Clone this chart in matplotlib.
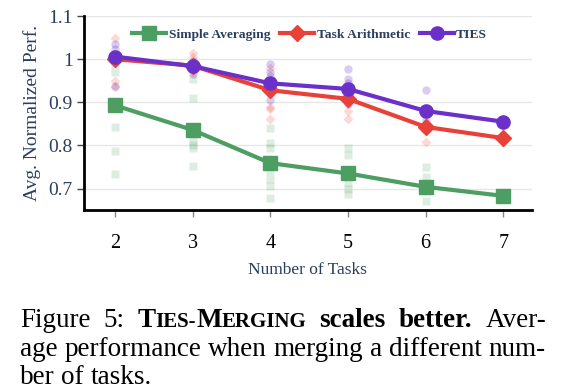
import numpy as np
import matplotlib
matplotlib.use("Agg")
import matplotlib.pyplot as plt

plt.rcParams['font.family'] = ['Liberation Serif', 'DejaVu Serif']

# data
tasks = [2, 3, 4, 5, 6, 7]
simple_avg = [0.893, 0.836, 0.759, 0.735, 0.704, 0.683]
task_arith = [1.000, 0.985, 0.928, 0.908, 0.843, 0.817]
ties = [1.006, 0.984, 0.944, 0.931, 0.880, 0.855]

# individual runs (faint points)
simple_runs_x = [2, 2, 2, 2, 2, 3, 3, 3, 3, 3, 3, 4, 4, 4, 4, 4, 4, 4,
                 5, 5, 5, 5, 5, 6, 6, 6, 6, 6]
simple_runs_y = [0.99, 0.97, 0.842, 0.788, 0.733,
                 0.955, 0.91, 0.81, 0.80, 0.795, 0.753,
                 0.84, 0.805, 0.795, 0.74, 0.723, 0.707, 0.677,
                 0.795, 0.777, 0.712, 0.70, 0.688,
                 0.749, 0.726, 0.71, 0.695, 0.672]
arith_runs_x = [2, 2, 2, 3, 3, 3, 4, 4, 4, 4, 5, 5, 5, 6, 6]
arith_runs_y = [1.05, 0.95, 0.935, 1.014, 1.005, 0.97,
                0.98, 0.89, 0.885, 0.862, 0.90, 0.88, 0.862, 0.835, 0.807]
ties_runs_x = [2, 2, 2, 3, 3, 4, 4, 4, 4, 5, 5, 5, 5, 6, 6]
ties_runs_y = [1.035, 1.023, 0.937, 0.995, 0.965, 0.99, 0.97, 0.905, 0.96,
               0.977, 0.953, 0.944, 0.895, 0.928, 0.858]

green = '#4c9e62'
red = '#e8413a'
purple = '#6a30c9'
navy = '#2a3f5f'

fig = plt.figure(figsize=(5.66, 3.92), dpi=100)
ax = fig.add_axes([0.148, 0.464, 0.792, 0.495])

# faint individual points
ax.plot(simple_runs_x, simple_runs_y, 's', color=green, alpha=0.18, ms=6, mec='none')
ax.plot(arith_runs_x, arith_runs_y, 'D', color=red, alpha=0.2, ms=5.5, mec='none')
ax.plot(ties_runs_x, ties_runs_y, 'o', color=purple, alpha=0.25, ms=6, mec='none')

# main lines
ax.plot(tasks, simple_avg, '-s', color=green, lw=3, ms=10, label='Simple Averaging')
ax.plot(tasks, task_arith, '-D', color=red, lw=3, ms=8.5, label='Task Arithmetic')
ax.plot(tasks, ties, '-o', color=purple, lw=3, ms=9.5, label='TIES')

ax.set_xlim(1.6, 7.37)
ax.set_ylim(0.65, 1.1)
ax.set_xticks(tasks)
ax.set_yticks([0.7, 0.8, 0.9, 1.0, 1.1])
ax.set_yticklabels(['0.7', '0.8', '0.9', '1', '1.1'])
ax.grid(axis='y', color='#e6e6e6', lw=1)
ax.set_axisbelow(True)

for s in ['top', 'right']:
    ax.spines[s].set_visible(False)
for s in ['left', 'bottom']:
    ax.spines[s].set_linewidth(2)
    ax.spines[s].set_color('black')

ax.tick_params(axis='y', colors='#444444', labelcolor=navy, labelsize=14,
               length=5, width=1, pad=3)
ax.tick_params(axis='x', colors='#888888', labelcolor='black', labelsize=14.5,
               length=5, width=1, pad=12)

ax.set_ylabel('Avg. Normalized Perf.', color=navy, fontsize=14, labelpad=5)
ax.set_xlabel('Number of Tasks', color=navy, fontsize=12.5, labelpad=7)

leg = ax.legend(loc='upper center', bbox_to_anchor=(0.504, 1.0), ncol=3,
                frameon=False, handlelength=2.5, columnspacing=0.75,
                handletextpad=0.2, prop={'weight': 'bold', 'size': 9.7})
for t in leg.get_texts():
    t.set_color(navy)

# caption (justified like the paper)
fig.canvas.draw()
renderer = fig.canvas.get_renderer()
big, small = 19.5, 15
left_px, right_px = 20, 546


def word_width(runs):
    w = 0
    for s, size, weight in runs:
        t = fig.text(0, 0, s, fontsize=size, fontweight=weight)
        w += t.get_window_extent(renderer).width
        t.remove()
    return w


def draw_line(words, y_px, justify=True, extra=None):
    widths = [word_width(w) for w in words]
    if justify:
        gap = (right_px - left_px - sum(widths)) / (len(words) - 1)
    else:
        gap = word_width([('a a', big, 'normal')]) - word_width([('aa', big, 'normal')])
    x = left_px
    for i, runs in enumerate(words):
        for s, size, weight in runs:
            t = fig.text(x / 566, 1 - y_px / 392, s, fontsize=size,
                         fontweight=weight, va='baseline', ha='left',
                         color='black')
            x += t.get_window_extent(renderer).width
        x += gap


R = 'normal'
B = 'bold'
draw_line([[('Figure', big, R)], [('5:', big, R)],
           [('T', big, B), ('IES-', small, B), ('M', big, B), ('ERGING', small, B)],
           [('scales', big, B)], [('better.', big, B)], [('Aver-', big, R)]], 327)
line2 = 'age performance when merging a different num-'
draw_line([[(w, big, R)] for w in line2.split()], 356)
line3 = 'ber of tasks.'
draw_line([[(w, big, R)] for w in line3.split()], 384, justify=False)

plt.savefig('out.png', dpi=100)
